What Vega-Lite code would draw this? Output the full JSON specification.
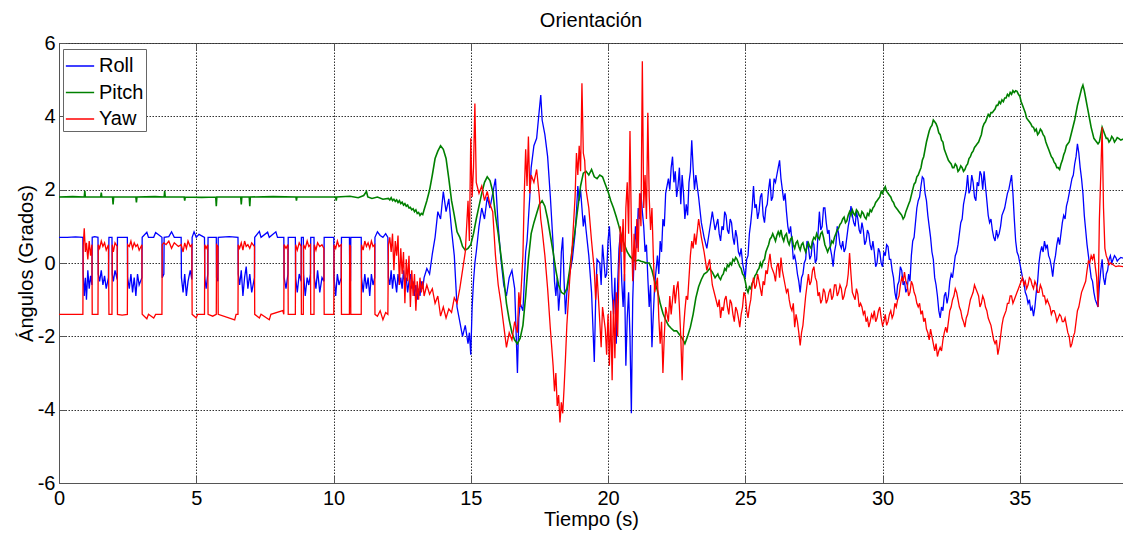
{
 "$schema": "https://vega.github.io/schema/vega-lite/v6.json",
 "width": 1064, "height": 440,
 "autosize": {"type": "none"},
 "padding": {"left": 59, "top": 43, "right": 0, "bottom": 50},
 "background": "white",
 "title": {"text": "Orientación", "font": "Liberation Sans", "fontSize": 20, "fontWeight": "normal", "color": "#000", "anchor": "middle", "frame": "group", "offset": 2},
 "config": {"view": {"stroke": "#555", "strokeWidth": 1}},
 "resolve": {"axis": {"x": "independent"}},
 "datasets": {
  "roll": [
{"t":0,"v":0.7},{"t":0.3,"v":0.7},{"t":0.6,"v":0.71},{"t":0.87,"v":0.7},{"t":0.88,"v":-0.3},{"t":0.92,"v":-0.9},{"t":0.96,"v":-0.4},{"t":1.0,"v":-1.0},{"t":1.05,"v":-0.2},{"t":1.1,"v":-0.7},{"t":1.15,"v":-0.35},{"t":1.2,"v":-0.6},{"t":1.21,"v":0.7},{"t":1.3,"v":0.72},{"t":1.42,"v":0.7},{"t":1.43,"v":-0.3},{"t":1.48,"v":-0.5},{"t":1.54,"v":-0.2},{"t":1.6,"v":-0.6},{"t":1.66,"v":-0.35},{"t":1.72,"v":-0.7},{"t":1.8,"v":-0.4},{"t":1.82,"v":0.7},{"t":1.93,"v":0.7},{"t":1.94,"v":-0.3},{"t":1.98,"v":-0.5},{"t":2.04,"v":-0.2},{"t":2.12,"v":-0.45},{"t":2.13,"v":0.7},{"t":2.3,"v":0.7},{"t":2.49,"v":0.7},{"t":2.5,"v":-0.4},{"t":2.56,"v":-0.7},{"t":2.62,"v":-0.3},{"t":2.68,"v":-0.8},{"t":2.74,"v":-0.4},{"t":2.8,"v":-0.9},{"t":2.86,"v":-0.3},{"t":2.92,"v":-0.6},{"t":3.02,"v":-0.4},{"t":3.03,"v":0.7},{"t":3.2,"v":0.84},{"t":3.26,"v":0.7},{"t":3.45,"v":0.7},{"t":3.52,"v":0.83},{"t":3.75,"v":0.7},{"t":3.76,"v":-0.4},{"t":3.82,"v":-0.3},{"t":3.83,"v":0.7},{"t":4.0,"v":0.72},{"t":4.1,"v":0.85},{"t":4.2,"v":0.7},{"t":4.45,"v":0.7},{"t":4.46,"v":-0.4},{"t":4.52,"v":-0.8},{"t":4.58,"v":-0.3},{"t":4.64,"v":-0.9},{"t":4.7,"v":-0.5},{"t":4.78,"v":-0.2},{"t":4.84,"v":-0.45},{"t":4.85,"v":0.7},{"t":4.92,"v":0.85},{"t":5.0,"v":0.7},{"t":5.1,"v":0.78},{"t":5.3,"v":0.7},{"t":5.31,"v":-0.4},{"t":5.36,"v":-0.7},{"t":5.42,"v":-0.3},{"t":5.43,"v":0.7},{"t":5.73,"v":0.7},{"t":5.74,"v":-0.4},{"t":5.79,"v":-0.5},{"t":5.8,"v":0.7},{"t":6.2,"v":0.72},{"t":6.52,"v":0.7},{"t":6.53,"v":-0.3},{"t":6.58,"v":-0.6},{"t":6.64,"v":-0.2},{"t":6.7,"v":-0.9},{"t":6.76,"v":-0.4},{"t":6.82,"v":-0.1},{"t":6.88,"v":-0.7},{"t":6.95,"v":-0.3},{"t":7.02,"v":-0.8},{"t":7.12,"v":-0.4},{"t":7.13,"v":0.7},{"t":7.3,"v":0.86},{"t":7.36,"v":0.7},{"t":7.6,"v":0.84},{"t":7.66,"v":0.7},{"t":7.9,"v":0.85},{"t":7.96,"v":0.7},{"t":8.19,"v":0.7},{"t":8.2,"v":-0.4},{"t":8.27,"v":-0.7},{"t":8.34,"v":-0.3},{"t":8.35,"v":0.7},{"t":8.61,"v":0.7},{"t":8.62,"v":-0.4},{"t":8.68,"v":-0.8},{"t":8.75,"v":-0.3},{"t":8.82,"v":-0.5},{"t":8.83,"v":0.7},{"t":8.9,"v":0.7},{"t":8.91,"v":-0.3},{"t":8.97,"v":-0.9},{"t":9.04,"v":-0.4},{"t":9.1,"v":-0.6},{"t":9.16,"v":-0.3},{"t":9.17,"v":0.7},{"t":9.29,"v":0.7},{"t":9.3,"v":-0.4},{"t":9.36,"v":-0.7},{"t":9.42,"v":-0.2},{"t":9.5,"v":-0.8},{"t":9.58,"v":-0.4},{"t":9.65,"v":-0.5},{"t":9.66,"v":0.7},{"t":10.01,"v":0.7},{"t":10.02,"v":-0.4},{"t":10.08,"v":-0.9},{"t":10.14,"v":-0.3},{"t":10.2,"v":-0.6},{"t":10.28,"v":-0.4},{"t":10.29,"v":0.7},{"t":10.58,"v":0.7},{"t":10.59,"v":-0.4},{"t":10.62,"v":-0.5},{"t":10.63,"v":0.7},{"t":11.01,"v":0.7},{"t":11.02,"v":-0.4},{"t":11.08,"v":-0.8},{"t":11.14,"v":-0.3},{"t":11.2,"v":-0.7},{"t":11.26,"v":-0.4},{"t":11.32,"v":-0.9},{"t":11.38,"v":-0.3},{"t":11.44,"v":-0.6},{"t":11.5,"v":-0.4},{"t":11.51,"v":0.7},{"t":11.6,"v":0.85},{"t":11.7,"v":0.75},{"t":11.8,"v":0.7},{"t":11.9,"v":0.8},{"t":11.98,"v":0.7},{"t":12.0,"v":-0.4},
{"t":12.05,"v":-0.6},{"t":12.1,"v":-0.2},{"t":12.15,"v":-0.7},{"t":12.2,"v":-0.3},{"t":12.25,"v":-0.5},{"t":12.3,"v":-0.8},{"t":12.35,"v":-0.3},{"t":12.4,"v":-0.6},{"t":12.45,"v":-0.4},{"t":12.5,"v":-0.7},{"t":12.55,"v":-0.2},{"t":12.6,"v":-0.6},{"t":12.65,"v":-0.4},{"t":12.7,"v":-0.8},{"t":12.75,"v":-0.5},{"t":12.8,"v":-0.3},{"t":12.85,"v":-0.7},{"t":12.9,"v":-0.5},{"t":12.95,"v":-0.9},{"t":13.0,"v":-0.6},{"t":13.05,"v":-1.0},{"t":13.1,"v":-0.7},{"t":13.15,"v":-0.9},{"t":13.2,"v":-0.5},{"t":13.25,"v":-0.7},{"t":13.3,"v":-0.4},
{"t":13.4,"v":-0.15},{"t":13.5,"v":-0.3},{"t":13.6,"v":0.25},{"t":13.7,"v":0.7},{"t":13.8,"v":1.4},{"t":13.9,"v":1.2},{"t":14.0,"v":1.95},{"t":14.1,"v":1.4},{"t":14.2,"v":1.75},{"t":14.3,"v":0.9},{"t":14.4,"v":0.2},{"t":14.5,"v":-1.2},{"t":14.6,"v":-1.6},{"t":14.7,"v":-2.0},{"t":14.8,"v":-1.7},{"t":14.9,"v":-2.2},{"t":14.95,"v":-1.9},{"t":15.0,"v":-2.5},{"t":15.05,"v":-1.2},{"t":15.1,"v":-0.5},{"t":15.15,"v":0.0},{"t":15.2,"v":0.3},{"t":15.3,"v":1.0},{"t":15.4,"v":1.5},{"t":15.5,"v":1.2},{"t":15.6,"v":1.8},{"t":15.7,"v":1.5},{"t":15.8,"v":1.9},{"t":15.9,"v":2.3},{"t":16.0,"v":1.0},{"t":16.1,"v":0.1},{"t":16.2,"v":-0.6},{"t":16.3,"v":-0.9},{"t":16.4,"v":-0.4},{"t":16.5,"v":-0.2},{"t":16.6,"v":-0.7},{"t":16.7,"v":-3.0},{"t":16.75,"v":-1.5},{"t":16.8,"v":-1.1},{"t":16.9,"v":-1.3},{"t":16.95,"v":-0.5},{"t":17.0,"v":0.3},{"t":17.05,"v":0.6},{"t":17.1,"v":1.2},{"t":17.15,"v":1.8},{"t":17.2,"v":2.6},{"t":17.3,"v":3.2},{"t":17.4,"v":3.4},{"t":17.5,"v":4.2},{"t":17.55,"v":4.58},{"t":17.6,"v":3.9},{"t":17.7,"v":3.5},{"t":17.8,"v":2.9},{"t":17.9,"v":1.8},{"t":18.0,"v":0.5},{"t":18.05,"v":-0.5},{"t":18.1,"v":-0.9},{"t":18.15,"v":-0.4},{"t":18.2,"v":-1.3},{"t":18.25,"v":-0.8},{"t":18.3,"v":0.3},{"t":18.35,"v":0.7},{"t":18.4,"v":-0.5},{"t":18.45,"v":-1.4},{"t":18.5,"v":-0.8},{"t":18.6,"v":-0.3},{"t":18.7,"v":0.1},{"t":18.8,"v":0.8},{"t":18.85,"v":1.4},{"t":18.9,"v":2.1},{"t":18.95,"v":1.7},{"t":19.0,"v":2.0},{"t":19.05,"v":1.5},{"t":19.1,"v":1.0},{"t":19.15,"v":1.3},{"t":19.2,"v":0.9},{"t":19.3,"v":0.2},{"t":19.4,"v":-0.8},{"t":19.5,"v":-2.7},{"t":19.55,"v":-1.0},{"t":19.6,"v":0.1},{"t":19.7,"v":0.0},{"t":19.75,"v":-0.6},{"t":19.8,"v":0.5},{"t":19.9,"v":-0.4},{"t":19.95,"v":-0.3},{"t":20.0,"v":0.6},{"t":20.05,"v":1.0},{"t":20.1,"v":0.3},{"t":20.15,"v":-0.8},{"t":20.2,"v":-1.4},{"t":20.25,"v":-0.4},{"t":20.3,"v":-2.2},{"t":20.35,"v":-0.6},{"t":20.4,"v":0.4},{"t":20.45,"v":0.8},{"t":20.5,"v":-0.5},{"t":20.55,"v":-1.2},{"t":20.6,"v":-0.3},{"t":20.65,"v":-2.8},{"t":20.7,"v":-1.5},{"t":20.75,"v":-0.8},{"t":20.8,"v":-2.0},{"t":20.85,"v":-4.1},{"t":20.9,"v":-1.0},{"t":20.95,"v":0.2},{"t":21.0,"v":1.0},{"t":21.05,"v":0.4},{"t":21.1,"v":1.5},{"t":21.15,"v":1.2},{"t":21.2,"v":1.9},{"t":21.25,"v":1.4},{"t":21.3,"v":1.0},{"t":21.35,"v":0.3},{"t":21.4,"v":0.5},{"t":21.45,"v":-0.4},{"t":21.5,"v":-1.2},{"t":21.55,"v":-0.6},{"t":21.6,"v":-2.3},{"t":21.65,"v":-1.4},{"t":21.7,"v":-0.6},{"t":21.8,"v":0.2},{"t":21.85,"v":-0.3},{"t":21.9,"v":0.6},{"t":21.95,"v":0.3},{"t":22.0,"v":1.2},{"t":22.05,"v":1.0},{"t":22.1,"v":1.9},{"t":22.2,"v":2.3},{"t":22.25,"v":2.0},{"t":22.3,"v":2.6},{"t":22.35,"v":2.9},{"t":22.4,"v":2.2},{"t":22.45,"v":2.5},{"t":22.5,"v":1.8},{"t":22.55,"v":2.1},{"t":22.6,"v":2.6},{"t":22.65,"v":1.6},{"t":22.7,"v":2.4},{"t":22.75,"v":1.9},{"t":22.8,"v":1.2},{"t":22.85,"v":1.6},{"t":22.9,"v":1.3},{"t":22.95,"v":2.2},{"t":23.0,"v":2.5},{"t":23.05,"v":3.35},{"t":23.1,"v":2.6},{"t":23.15,"v":2.0},{"t":23.2,"v":2.4},{"t":23.3,"v":1.8},{"t":23.4,"v":1.1},{"t":23.5,"v":0.7},{"t":23.6,"v":0.4},{"t":23.7,"v":0.9},{"t":23.8,"v":1.4},{"t":23.9,"v":0.9},
{"t":24.0,"v":1.2},{"t":24.05,"v":0.8},{"t":24.1,"v":0.6},{"t":24.15,"v":1.0},{"t":24.2,"v":0.9},{"t":24.25,"v":1.4},{"t":24.3,"v":1.3},{"t":24.35,"v":0.9},{"t":24.4,"v":0.8},{"t":24.45,"v":1.2},{"t":24.5,"v":1.1},{"t":24.55,"v":0.7},{"t":24.6,"v":0.5},{"t":24.65,"v":0.9},{"t":24.7,"v":0.7},{"t":24.75,"v":0.3},{"t":24.8,"v":0.2},{"t":24.85,"v":0.4},{"t":24.9,"v":0.0},{"t":24.95,"v":-0.2},{"t":25.0,"v":-0.4},{"t":25.05,"v":0.1},{"t":25.1,"v":0.2},{"t":25.15,"v":0.8},{"t":25.2,"v":1.1},{"t":25.25,"v":1.5},{"t":25.3,"v":2.1},{"t":25.35,"v":1.5},{"t":25.4,"v":1.6},{"t":25.45,"v":1.2},{"t":25.5,"v":1.4},{"t":25.55,"v":1.8},{"t":25.6,"v":1.9},{"t":25.65,"v":1.3},{"t":25.7,"v":1.1},{"t":25.75,"v":1.5},{"t":25.8,"v":1.6},{"t":25.85,"v":2.0},{"t":25.9,"v":2.3},{"t":25.95,"v":1.7},{"t":26.0,"v":1.8},{"t":26.05,"v":2.3},{"t":26.1,"v":2.2},{"t":26.15,"v":2.4},{"t":26.2,"v":2.6},{"t":26.25,"v":2.8},{"t":26.3,"v":2.3},{"t":26.35,"v":2.0},{"t":26.4,"v":1.7},{"t":26.45,"v":1.9},{"t":26.5,"v":1.4},{"t":26.55,"v":1.0},{"t":26.6,"v":0.8},{"t":26.65,"v":1.0},{"t":26.7,"v":0.6},{"t":26.75,"v":0.1},{"t":26.8,"v":0.2},{"t":26.85,"v":0.0},{"t":26.9,"v":-0.3},{"t":26.95,"v":-0.5},{"t":27.0,"v":-0.8},{"t":27.05,"v":-0.4},{"t":27.1,"v":-0.3},{"t":27.15,"v":0.0},{"t":27.2,"v":0.1},{"t":27.25,"v":0.6},{"t":27.3,"v":0.45},{"t":27.35,"v":0.1},{"t":27.4,"v":0.2},{"t":27.45,"v":0.6},{"t":27.5,"v":0.5},{"t":27.55,"v":0.0},{"t":27.6,"v":0.1},{"t":27.65,"v":0.8},{"t":27.7,"v":1.4},{"t":27.75,"v":0.9},{"t":27.8,"v":1.0},{"t":27.85,"v":1.5},{"t":27.9,"v":1.5},{"t":27.95,"v":1.1},{"t":28.0,"v":0.8},{"t":28.05,"v":0.9},{"t":28.1,"v":0.4},{"t":28.15,"v":0.2},{"t":28.2,"v":-0.1},{"t":28.25,"v":0.3},{"t":28.3,"v":0.5},{"t":28.35,"v":1.0},{"t":28.4,"v":0.8},{"t":28.45,"v":0.5},{"t":28.5,"v":0.4},{"t":28.55,"v":0.6},{"t":28.6,"v":0.3},{"t":28.65,"v":0.4},{"t":28.7,"v":0.7},{"t":28.75,"v":1.0},{"t":28.8,"v":1.2},{"t":28.85,"v":1.55},{"t":28.9,"v":1.3},{"t":28.95,"v":1.1},{"t":29.0,"v":1.0},{"t":29.05,"v":1.4},{"t":29.1,"v":1.2},{"t":29.15,"v":0.9},{"t":29.2,"v":0.8},{"t":29.25,"v":1.1},{"t":29.3,"v":0.9},{"t":29.35,"v":0.5},{"t":29.4,"v":0.6},{"t":29.45,"v":0.9},{"t":29.5,"v":0.8},{"t":29.55,"v":0.5},{"t":29.6,"v":0.35},{"t":29.65,"v":0.6},{"t":29.7,"v":0.3},{"t":29.75,"v":-0.1},{"t":29.8,"v":0.0},{"t":29.85,"v":0.4},{"t":29.9,"v":0.3},{"t":29.95,"v":0.0},{"t":30.0,"v":-0.1},{"t":30.05,"v":0.3},{"t":30.1,"v":0.2},{"t":30.15,"v":0.5},{"t":30.2,"v":0.45},{"t":30.25,"v":0.1},{"t":30.3,"v":0.1},{"t":30.35,"v":-0.2},{"t":30.4,"v":-0.4},{"t":30.45,"v":-0.8},{"t":30.5,"v":-1.0},{"t":30.55,"v":-0.6},{"t":30.6,"v":-0.5},{"t":30.65,"v":-0.1},{"t":30.7,"v":-0.2},{"t":30.75,"v":-0.6},{"t":30.8,"v":-0.5},{"t":30.85,"v":-0.8},{"t":30.9,"v":-0.7},{"t":30.95,"v":-0.3},{"t":31.0,"v":-0.5},{"t":31.05,"v":0.2},{"t":31.1,"v":0.6},{"t":31.15,"v":0.7},{"t":31.2,"v":1.1},{"t":31.25,"v":1.5},{"t":31.3,"v":1.7},{"t":31.35,"v":1.8},{"t":31.4,"v":2.1},{"t":31.45,"v":2.35},{"t":31.5,"v":2.3},{"t":31.55,"v":1.9},{"t":31.6,"v":1.7},{"t":31.65,"v":1.3},{"t":31.7,"v":1.0},{"t":31.75,"v":0.7},{"t":31.8,"v":0.3},{"t":31.85,"v":0.1},{"t":31.9,"v":-0.4},{"t":31.95,"v":-0.6},{"t":32.0,"v":-0.9},{"t":32.05,"v":-1.3},{"t":32.1,"v":-1.5},{"t":32.15,"v":-1.2},{"t":32.2,"v":-1.3},{"t":32.25,"v":-0.9},{"t":32.3,"v":-0.8},{"t":32.35,"v":-1.1},{"t":32.4,"v":-0.9},{"t":32.45,"v":-0.5},{"t":32.5,"v":-0.3},{"t":32.55,"v":-0.4},{"t":32.6,"v":-0.1},{"t":32.65,"v":0.2},{"t":32.7,"v":0.3},{"t":32.75,"v":0.5},{"t":32.8,"v":0.8},{"t":32.85,"v":1.1},{"t":32.9,"v":1.2},{"t":32.95,"v":1.6},{"t":33.0,"v":1.8},{"t":33.05,"v":2.0},{"t":33.1,"v":2.4},{"t":33.15,"v":1.9},{"t":33.2,"v":2.0},{"t":33.25,"v":2.4},{"t":33.3,"v":2.2},{"t":33.35,"v":1.8},{"t":33.4,"v":1.7},{"t":33.45,"v":2.2},{"t":33.5,"v":2.1},{"t":33.55,"v":2.5},{"t":33.6,"v":2.4},{"t":33.65,"v":2.0},{"t":33.7,"v":2.5},{"t":33.75,"v":2.1},{"t":33.8,"v":1.7},{"t":33.85,"v":1.3},{"t":33.9,"v":1.1},{"t":33.95,"v":1.2},{"t":34.0,"v":0.9},{"t":34.05,"v":0.7},{"t":34.1,"v":0.6},{"t":34.15,"v":0.9},{"t":34.2,"v":0.7},{"t":34.25,"v":0.8},{"t":34.3,"v":1.0},{"t":34.35,"v":1.3},{"t":34.4,"v":1.4},{"t":34.45,"v":1.5},{"t":34.5,"v":1.7},{"t":34.55,"v":1.9},{"t":34.6,"v":2.0},{"t":34.65,"v":2.2},{"t":34.7,"v":2.4},{"t":34.75,"v":1.9},{"t":34.8,"v":1.2},{"t":34.85,"v":0.6},{"t":34.9,"v":0.3},{"t":34.95,"v":0.2},{"t":35.0,"v":0.0},{"t":35.05,"v":-0.2},{"t":35.1,"v":-0.4},{"t":35.15,"v":-0.5},{"t":35.2,"v":-0.8},{"t":35.25,"v":-0.9},{"t":35.3,"v":-1.1},{"t":35.35,"v":-1.0},{"t":35.4,"v":-1.3},{"t":35.45,"v":-1.2},{"t":35.5,"v":-1.45},{"t":35.55,"v":-1.2},{"t":35.6,"v":-0.8},{"t":35.65,"v":-0.5},{"t":35.7,"v":0.0},{"t":35.75,"v":0.3},{"t":35.8,"v":0.45},{"t":35.85,"v":0.3},{"t":35.9,"v":0.6},{"t":35.95,"v":0.4},{"t":36.0,"v":0.5},{"t":36.05,"v":0.2},{"t":36.1,"v":0.1},{"t":36.15,"v":-0.1},{"t":36.2,"v":-0.37},{"t":36.25,"v":0.0},{"t":36.3,"v":0.2},{"t":36.35,"v":0.5},{"t":36.4,"v":0.7},{"t":36.45,"v":0.5},{"t":36.5,"v":0.8},{"t":36.55,"v":1.1},{"t":36.6,"v":1.3},{"t":36.65,"v":1.2},{"t":36.7,"v":1.55},{"t":36.75,"v":1.7},{"t":36.8,"v":1.9},{"t":36.85,"v":2.1},{"t":36.9,"v":2.3},{"t":36.95,"v":2.4},{"t":37.0,"v":2.7},{"t":37.05,"v":2.9},{"t":37.1,"v":3.25},{"t":37.15,"v":3.0},{"t":37.2,"v":2.6},{"t":37.25,"v":2.3},{"t":37.3,"v":1.9},{"t":37.35,"v":1.3},{"t":37.4,"v":0.9},{"t":37.45,"v":0.5},{"t":37.5,"v":0.2},{"t":37.55,"v":-0.1},{"t":37.6,"v":-0.4},{"t":37.65,"v":-0.5},{"t":37.7,"v":-0.8},{"t":37.75,"v":-1.0},{"t":37.8,"v":-1.1},{"t":37.85,"v":-1.2},{"t":37.9,"v":-0.6},{"t":37.95,"v":-0.2},{"t":38.0,"v":0.1},{"t":38.05,"v":-0.4},{"t":38.1,"v":-0.6},{"t":38.15,"v":-0.3},{"t":38.2,"v":-0.2},{"t":38.25,"v":0.1},{"t":38.3,"v":0.2},{"t":38.35,"v":0.0},{"t":38.4,"v":0.1},{"t":38.45,"v":0.2},{"t":38.5,"v":0.15},{"t":38.55,"v":0.05},{"t":38.6,"v":0.1},{"t":38.68,"v":0.15},{"t":38.76,"v":0.13}
  ],
  "pitch": [
{"t":0,"v":1.8},{"t":0.5,"v":1.81},{"t":0.92,"v":1.8},{"t":0.94,"v":1.97},{"t":0.96,"v":1.8},{"t":1.52,"v":1.8},{"t":1.54,"v":1.92},{"t":1.56,"v":1.8},{"t":1.95,"v":1.8},{"t":1.97,"v":1.6},{"t":1.99,"v":1.8},{"t":2.8,"v":1.8},{"t":2.82,"v":1.65},{"t":2.84,"v":1.8},{"t":3.5,"v":1.81},{"t":3.83,"v":1.8},{"t":3.85,"v":1.96},{"t":3.87,"v":1.8},{"t":4.56,"v":1.8},{"t":4.58,"v":1.7},{"t":4.6,"v":1.8},{"t":5.2,"v":1.79},{"t":5.71,"v":1.8},{"t":5.73,"v":1.55},{"t":5.75,"v":1.8},{"t":6.62,"v":1.8},{"t":6.64,"v":1.6},{"t":6.66,"v":1.8},{"t":6.93,"v":1.8},{"t":6.95,"v":1.55},{"t":6.97,"v":1.8},{"t":7.8,"v":1.81},{"t":8.63,"v":1.8},{"t":8.65,"v":1.7},{"t":8.67,"v":1.8},{"t":9.4,"v":1.8},{"t":10.08,"v":1.8},{"t":10.1,"v":1.7},{"t":10.12,"v":1.8},{"t":10.6,"v":1.82},{"t":10.9,"v":1.78},{"t":11.1,"v":1.84},{"t":11.2,"v":1.95},{"t":11.25,"v":1.8},{"t":11.4,"v":1.76},{"t":11.6,"v":1.8},{"t":11.8,"v":1.74},{"t":12.0,"v":1.76},
{"t":12.05,"v":1.72},{"t":12.1,"v":1.78},{"t":12.15,"v":1.7},{"t":12.2,"v":1.74},{"t":12.25,"v":1.68},{"t":12.3,"v":1.72},{"t":12.35,"v":1.65},{"t":12.4,"v":1.7},{"t":12.45,"v":1.62},{"t":12.5,"v":1.66},{"t":12.55,"v":1.58},{"t":12.6,"v":1.62},{"t":12.65,"v":1.55},{"t":12.7,"v":1.58},{"t":12.75,"v":1.5},{"t":12.8,"v":1.52},{"t":12.85,"v":1.45},{"t":12.9,"v":1.48},{"t":12.95,"v":1.4},{"t":13.0,"v":1.45},{"t":13.05,"v":1.35},{"t":13.1,"v":1.38},{"t":13.15,"v":1.3},{"t":13.2,"v":1.35},{"t":13.25,"v":1.32},{"t":13.3,"v":1.45},
{"t":13.4,"v":1.7},{"t":13.5,"v":1.99},{"t":13.6,"v":2.4},{"t":13.7,"v":2.85},{"t":13.8,"v":3.05},{"t":13.9,"v":3.2},{"t":14.0,"v":3.1},{"t":14.1,"v":2.85},{"t":14.2,"v":2.3},{"t":14.3,"v":1.7},{"t":14.4,"v":1.3},{"t":14.5,"v":0.85},{"t":14.6,"v":0.7},{"t":14.7,"v":0.45},{"t":14.8,"v":0.35},{"t":14.9,"v":0.4},{"t":15.0,"v":0.5},{"t":15.1,"v":0.8},{"t":15.2,"v":1.2},{"t":15.3,"v":1.55},{"t":15.4,"v":1.9},{"t":15.5,"v":2.2},{"t":15.6,"v":2.35},{"t":15.7,"v":2.25},{"t":15.8,"v":1.95},{"t":15.9,"v":1.3},{"t":16.0,"v":0.8},{"t":16.1,"v":0.2},{"t":16.2,"v":-0.4},{"t":16.3,"v":-1.1},{"t":16.4,"v":-1.55},{"t":16.5,"v":-1.9},{"t":16.6,"v":-2.1},{"t":16.7,"v":-2.2},{"t":16.8,"v":-2.05},{"t":16.9,"v":-1.7},{"t":17.0,"v":-0.9},{"t":17.1,"v":0.1},{"t":17.2,"v":0.8},{"t":17.3,"v":1.1},{"t":17.4,"v":1.35},{"t":17.5,"v":1.6},{"t":17.6,"v":1.7},{"t":17.7,"v":1.55},{"t":17.8,"v":1.2},{"t":17.9,"v":0.75},{"t":18.0,"v":0.3},{"t":18.1,"v":-0.2},{"t":18.2,"v":-0.6},{"t":18.3,"v":-0.8},{"t":18.4,"v":-0.85},{"t":18.5,"v":-0.7},{"t":18.6,"v":-0.2},{"t":18.7,"v":0.4},{"t":18.8,"v":0.9},{"t":18.9,"v":1.5},{"t":19.0,"v":2.1},{"t":19.1,"v":2.45},{"t":19.2,"v":2.5},{"t":19.3,"v":2.4},{"t":19.4,"v":2.55},{"t":19.5,"v":2.35},{"t":19.6,"v":2.3},{"t":19.7,"v":2.4},{"t":19.8,"v":2.35},{"t":19.9,"v":2.15},{"t":20.0,"v":1.95},{"t":20.1,"v":1.7},{"t":20.2,"v":1.5},{"t":20.3,"v":1.26},{"t":20.4,"v":1.0},{"t":20.5,"v":0.7},{"t":20.6,"v":0.5},{"t":20.7,"v":0.3},{"t":20.8,"v":0.18},{"t":20.9,"v":0.1},{"t":21.0,"v":0.05},{"t":21.1,"v":0.08},{"t":21.2,"v":0.05},{"t":21.3,"v":0.03},{"t":21.4,"v":0.0},{"t":21.5,"v":0.0},{"t":21.6,"v":-0.2},{"t":21.7,"v":-0.5},{"t":21.8,"v":-0.75},{"t":21.9,"v":-1.1},{"t":22.0,"v":-1.37},{"t":22.1,"v":-1.55},{"t":22.2,"v":-1.7},{"t":22.3,"v":-1.78},{"t":22.4,"v":-1.85},{"t":22.5,"v":-1.85},{"t":22.6,"v":-1.95},{"t":22.7,"v":-2.05},{"t":22.8,"v":-2.2},{"t":22.9,"v":-2.0},{"t":23.0,"v":-1.75},{"t":23.1,"v":-1.4},{"t":23.2,"v":-0.95},{"t":23.3,"v":-0.65},{"t":23.4,"v":-0.45},{"t":23.5,"v":-0.3},{"t":23.6,"v":-0.25},{"t":23.7,"v":-0.15},{"t":23.8,"v":-0.25},{"t":23.9,"v":-0.4},
{"t":24.0,"v":-0.3},{"t":24.05,"v":-0.4},{"t":24.1,"v":-0.45},{"t":24.15,"v":-0.35},{"t":24.2,"v":-0.3},{"t":24.25,"v":-0.15},{"t":24.3,"v":-0.2},{"t":24.35,"v":-0.05},{"t":24.4,"v":-0.1},{"t":24.45,"v":0.0},{"t":24.5,"v":-0.05},{"t":24.55,"v":0.1},{"t":24.6,"v":0.05},{"t":24.65,"v":0.15},{"t":24.7,"v":0.1},{"t":24.75,"v":0.0},{"t":24.8,"v":-0.1},{"t":24.85,"v":-0.15},{"t":24.9,"v":-0.3},{"t":24.95,"v":-0.35},{"t":25.0,"v":-0.5},{"t":25.05,"v":-0.7},{"t":25.1,"v":-0.8},{"t":25.15,"v":-0.65},{"t":25.2,"v":-0.7},{"t":25.25,"v":-0.55},{"t":25.3,"v":-0.5},{"t":25.35,"v":-0.35},{"t":25.4,"v":-0.3},{"t":25.45,"v":-0.2},{"t":25.5,"v":-0.15},{"t":25.55,"v":0.0},{"t":25.6,"v":-0.1},{"t":25.65,"v":0.05},{"t":25.7,"v":0.1},{"t":25.75,"v":0.3},{"t":25.8,"v":0.4},{"t":25.85,"v":0.5},{"t":25.9,"v":0.65},{"t":25.95,"v":0.7},{"t":26.0,"v":0.8},{"t":26.05,"v":0.7},{"t":26.1,"v":0.6},{"t":26.15,"v":0.75},{"t":26.2,"v":0.85},{"t":26.25,"v":0.75},{"t":26.3,"v":0.9},{"t":26.35,"v":0.7},{"t":26.4,"v":0.6},{"t":26.45,"v":0.75},{"t":26.5,"v":0.8},{"t":26.55,"v":0.6},{"t":26.6,"v":0.5},{"t":26.65,"v":0.65},{"t":26.7,"v":0.7},{"t":26.75,"v":0.5},{"t":26.8,"v":0.4},{"t":26.85,"v":0.55},{"t":26.9,"v":0.6},{"t":26.95,"v":0.45},{"t":27.0,"v":0.35},{"t":27.05,"v":0.5},{"t":27.1,"v":0.55},{"t":27.15,"v":0.4},{"t":27.2,"v":0.3},{"t":27.25,"v":0.45},{"t":27.3,"v":0.55},{"t":27.35,"v":0.45},{"t":27.4,"v":0.4},{"t":27.45,"v":0.6},{"t":27.5,"v":0.7},{"t":27.55,"v":0.65},{"t":27.6,"v":0.8},{"t":27.65,"v":0.7},{"t":27.7,"v":0.65},{"t":27.75,"v":0.8},{"t":27.8,"v":0.85},{"t":27.85,"v":0.7},{"t":27.9,"v":0.5},{"t":27.95,"v":0.4},{"t":28.0,"v":0.3},{"t":28.05,"v":0.4},{"t":28.1,"v":0.45},{"t":28.15,"v":0.6},{"t":28.2,"v":0.55},{"t":28.25,"v":0.7},{"t":28.3,"v":0.8},{"t":28.35,"v":0.9},{"t":28.4,"v":0.95},{"t":28.45,"v":1.05},{"t":28.5,"v":1.1},{"t":28.55,"v":1.2},{"t":28.6,"v":1.25},{"t":28.65,"v":1.1},{"t":28.7,"v":1.15},{"t":28.75,"v":1.3},{"t":28.8,"v":1.4},{"t":28.85,"v":1.3},{"t":28.9,"v":1.45},{"t":28.95,"v":1.35},{"t":29.0,"v":1.3},{"t":29.05,"v":1.45},{"t":29.1,"v":1.4},{"t":29.15,"v":1.3},{"t":29.2,"v":1.25},{"t":29.25,"v":1.4},{"t":29.3,"v":1.35},{"t":29.35,"v":1.25},{"t":29.4,"v":1.2},{"t":29.45,"v":1.35},{"t":29.5,"v":1.3},{"t":29.55,"v":1.45},{"t":29.6,"v":1.4},{"t":29.65,"v":1.5},{"t":29.7,"v":1.55},{"t":29.75,"v":1.65},{"t":29.8,"v":1.7},{"t":29.85,"v":1.75},{"t":29.9,"v":1.8},{"t":29.95,"v":1.95},{"t":30.0,"v":1.9},{"t":30.05,"v":2.0},{"t":30.1,"v":2.08},{"t":30.15,"v":1.95},{"t":30.2,"v":1.9},{"t":30.25,"v":1.85},{"t":30.3,"v":1.8},{"t":30.35,"v":1.7},{"t":30.4,"v":1.65},{"t":30.45,"v":1.55},{"t":30.5,"v":1.5},{"t":30.55,"v":1.45},{"t":30.6,"v":1.4},{"t":30.65,"v":1.35},{"t":30.7,"v":1.3},{"t":30.75,"v":1.2},{"t":30.8,"v":1.26},{"t":30.85,"v":1.4},{"t":30.9,"v":1.5},{"t":30.95,"v":1.6},{"t":31.0,"v":1.7},{"t":31.05,"v":1.85},{"t":31.1,"v":2.0},{"t":31.15,"v":2.15},{"t":31.2,"v":2.2},{"t":31.25,"v":2.35},{"t":31.3,"v":2.4},{"t":31.35,"v":2.5},{"t":31.4,"v":2.6},{"t":31.45,"v":2.8},{"t":31.5,"v":2.9},{"t":31.55,"v":3.1},{"t":31.6,"v":3.3},{"t":31.65,"v":3.45},{"t":31.7,"v":3.6},{"t":31.75,"v":3.7},{"t":31.8,"v":3.75},{"t":31.85,"v":3.9},{"t":31.9,"v":3.85},{"t":31.95,"v":3.8},{"t":32.0,"v":3.7},{"t":32.05,"v":3.55},{"t":32.1,"v":3.5},{"t":32.15,"v":3.35},{"t":32.2,"v":3.3},{"t":32.25,"v":3.1},{"t":32.3,"v":3.0},{"t":32.35,"v":2.9},{"t":32.4,"v":2.8},{"t":32.45,"v":2.75},{"t":32.5,"v":2.7},{"t":32.55,"v":2.6},{"t":32.6,"v":2.6},{"t":32.65,"v":2.7},{"t":32.7,"v":2.65},{"t":32.75,"v":2.5},{"t":32.8,"v":2.55},{"t":32.85,"v":2.65},{"t":32.9,"v":2.6},{"t":32.95,"v":2.5},{"t":33.0,"v":2.55},{"t":33.05,"v":2.65},{"t":33.1,"v":2.7},{"t":33.15,"v":2.85},{"t":33.2,"v":2.9},{"t":33.25,"v":3.0},{"t":33.3,"v":3.05},{"t":33.35,"v":3.15},{"t":33.4,"v":3.2},{"t":33.45,"v":3.25},{"t":33.5,"v":3.3},{"t":33.55,"v":3.4},{"t":33.6,"v":3.5},{"t":33.65,"v":3.7},{"t":33.7,"v":3.8},{"t":33.75,"v":3.85},{"t":33.8,"v":3.95},{"t":33.85,"v":4.05},{"t":33.9,"v":4.0},{"t":33.95,"v":4.1},{"t":34.0,"v":4.1},{"t":34.05,"v":4.15},{"t":34.1,"v":4.2},{"t":34.15,"v":4.3},{"t":34.2,"v":4.3},{"t":34.25,"v":4.4},{"t":34.3,"v":4.35},{"t":34.35,"v":4.45},{"t":34.4,"v":4.4},{"t":34.45,"v":4.5},{"t":34.5,"v":4.5},{"t":34.55,"v":4.6},{"t":34.6,"v":4.55},{"t":34.65,"v":4.65},{"t":34.7,"v":4.6},{"t":34.75,"v":4.7},{"t":34.8,"v":4.65},{"t":34.85,"v":4.7},{"t":34.9,"v":4.68},{"t":34.95,"v":4.6},{"t":35.0,"v":4.55},{"t":35.05,"v":4.4},{"t":35.1,"v":4.3},{"t":35.15,"v":4.2},{"t":35.2,"v":4.1},{"t":35.25,"v":3.95},{"t":35.3,"v":3.9},{"t":35.35,"v":3.85},{"t":35.4,"v":3.8},{"t":35.45,"v":3.72},{"t":35.5,"v":3.7},{"t":35.55,"v":3.6},{"t":35.6,"v":3.65},{"t":35.65,"v":3.5},{"t":35.7,"v":3.55},{"t":35.75,"v":3.65},{"t":35.8,"v":3.6},{"t":35.85,"v":3.5},{"t":35.9,"v":3.45},{"t":35.95,"v":3.3},{"t":36.0,"v":3.2},{"t":36.05,"v":3.1},{"t":36.1,"v":3.0},{"t":36.15,"v":2.9},{"t":36.2,"v":2.85},{"t":36.25,"v":2.75},{"t":36.3,"v":2.7},{"t":36.35,"v":2.6},{"t":36.4,"v":2.6},{"t":36.45,"v":2.55},{"t":36.5,"v":2.7},{"t":36.55,"v":2.8},{"t":36.6,"v":2.95},{"t":36.65,"v":3.05},{"t":36.7,"v":3.2},{"t":36.75,"v":3.25},{"t":36.8,"v":3.3},{"t":36.85,"v":3.45},{"t":36.9,"v":3.6},{"t":36.95,"v":3.75},{"t":37.0,"v":3.9},{"t":37.05,"v":4.1},{"t":37.1,"v":4.3},{"t":37.15,"v":4.45},{"t":37.2,"v":4.6},{"t":37.25,"v":4.75},{"t":37.3,"v":4.85},{"t":37.35,"v":4.7},{"t":37.4,"v":4.5},{"t":37.45,"v":4.3},{"t":37.5,"v":4.1},{"t":37.55,"v":3.9},{"t":37.6,"v":3.7},{"t":37.65,"v":3.55},{"t":37.7,"v":3.4},{"t":37.75,"v":3.35},{"t":37.8,"v":3.3},{"t":37.85,"v":3.25},{"t":37.9,"v":3.3},{"t":37.95,"v":3.5},{"t":38.0,"v":3.7},{"t":38.05,"v":3.6},{"t":38.1,"v":3.5},{"t":38.15,"v":3.4},{"t":38.2,"v":3.4},{"t":38.25,"v":3.3},{"t":38.3,"v":3.35},{"t":38.35,"v":3.45},{"t":38.4,"v":3.4},{"t":38.45,"v":3.3},{"t":38.5,"v":3.35},{"t":38.55,"v":3.42},{"t":38.6,"v":3.4},{"t":38.68,"v":3.35},{"t":38.76,"v":3.38}
  ],
  "yaw": [
{"t":0,"v":-1.4},{"t":0.87,"v":-1.4},{"t":0.88,"v":0.45},{"t":0.92,"v":0.95},{"t":0.96,"v":0.3},{"t":1.0,"v":0.55},{"t":1.05,"v":0.1},{"t":1.1,"v":0.6},{"t":1.15,"v":0.2},{"t":1.2,"v":0.5},{"t":1.21,"v":-1.4},{"t":1.42,"v":-1.4},{"t":1.43,"v":0.5},{"t":1.48,"v":0.4},{"t":1.54,"v":0.6},{"t":1.6,"v":0.45},{"t":1.66,"v":0.55},{"t":1.72,"v":0.35},{"t":1.8,"v":0.5},{"t":1.82,"v":-1.4},{"t":1.93,"v":-1.4},{"t":1.94,"v":0.5},{"t":1.98,"v":0.3},{"t":2.04,"v":0.55},{"t":2.12,"v":0.45},{"t":2.13,"v":-1.4},{"t":2.3,"v":-1.42},{"t":2.49,"v":-1.4},{"t":2.5,"v":0.5},{"t":2.56,"v":0.45},{"t":2.62,"v":0.6},{"t":2.68,"v":0.4},{"t":2.74,"v":0.55},{"t":2.8,"v":0.45},{"t":2.86,"v":0.5},{"t":2.92,"v":0.35},{"t":3.02,"v":0.5},{"t":3.03,"v":-1.4},{"t":3.2,"v":-1.52},{"t":3.26,"v":-1.4},{"t":3.45,"v":-1.5},{"t":3.52,"v":-1.4},{"t":3.75,"v":-1.4},{"t":3.76,"v":0.5},{"t":3.82,"v":0.55},{"t":3.9,"v":0.5},{"t":4.0,"v":0.6},{"t":4.1,"v":0.4},{"t":4.2,"v":0.55},{"t":4.35,"v":0.45},{"t":4.45,"v":0.5},{"t":4.52,"v":0.3},{"t":4.58,"v":0.55},{"t":4.64,"v":0.4},{"t":4.7,"v":0.6},{"t":4.78,"v":0.45},{"t":4.84,"v":0.5},{"t":4.85,"v":-1.4},{"t":5.0,"v":-1.5},{"t":5.05,"v":-1.4},{"t":5.3,"v":-1.4},{"t":5.31,"v":0.5},{"t":5.36,"v":0.4},{"t":5.42,"v":0.5},{"t":5.43,"v":-1.4},{"t":5.6,"v":-1.45},{"t":5.73,"v":-1.4},{"t":5.74,"v":0.5},{"t":5.79,"v":0.45},{"t":5.8,"v":-1.4},{"t":6.4,"v":-1.55},{"t":6.45,"v":-1.4},{"t":6.52,"v":-1.4},{"t":6.53,"v":0.5},{"t":6.58,"v":0.4},{"t":6.64,"v":0.55},{"t":6.7,"v":0.35},{"t":6.76,"v":0.6},{"t":6.82,"v":0.45},{"t":6.88,"v":0.5},{"t":6.95,"v":0.4},{"t":7.02,"v":0.55},{"t":7.12,"v":0.45},{"t":7.13,"v":-1.4},{"t":7.3,"v":-1.5},{"t":7.36,"v":-1.4},{"t":7.66,"v":-1.55},{"t":7.72,"v":-1.4},{"t":8.15,"v":-1.3},{"t":8.19,"v":-1.4},{"t":8.2,"v":0.5},{"t":8.27,"v":0.4},{"t":8.34,"v":0.5},{"t":8.35,"v":-1.4},{"t":8.61,"v":-1.4},{"t":8.62,"v":0.5},{"t":8.68,"v":0.35},{"t":8.75,"v":0.55},{"t":8.82,"v":0.45},{"t":8.83,"v":-1.4},{"t":8.9,"v":-1.4},{"t":8.91,"v":0.5},{"t":8.97,"v":0.4},{"t":9.04,"v":0.6},{"t":9.1,"v":0.45},{"t":9.16,"v":0.5},{"t":9.17,"v":-1.4},{"t":9.29,"v":-1.4},{"t":9.3,"v":0.5},{"t":9.36,"v":0.35},{"t":9.42,"v":0.55},{"t":9.5,"v":0.45},{"t":9.58,"v":0.5},{"t":9.65,"v":0.4},{"t":9.66,"v":-1.4},{"t":10.01,"v":-1.4},{"t":10.02,"v":0.5},{"t":10.08,"v":0.4},{"t":10.14,"v":0.6},{"t":10.2,"v":0.45},{"t":10.28,"v":0.5},{"t":10.29,"v":-1.4},{"t":10.58,"v":-1.4},{"t":10.59,"v":0.5},{"t":10.62,"v":0.45},{"t":10.63,"v":-1.4},{"t":11.01,"v":-1.4},{"t":11.02,"v":0.5},{"t":11.08,"v":0.35},{"t":11.14,"v":0.6},{"t":11.2,"v":0.45},{"t":11.26,"v":0.55},{"t":11.32,"v":0.4},{"t":11.38,"v":0.6},{"t":11.44,"v":0.45},{"t":11.5,"v":0.5},{"t":11.51,"v":-1.4},{"t":11.6,"v":-1.45},{"t":11.7,"v":-1.3},{"t":11.8,"v":-1.55},{"t":11.9,"v":-1.35},{"t":11.98,"v":-1.4},{"t":12.0,"v":0.5},
{"t":12.05,"v":0.7},{"t":12.1,"v":0.3},{"t":12.15,"v":0.8},{"t":12.2,"v":-0.2},{"t":12.25,"v":0.6},{"t":12.3,"v":0.2},{"t":12.35,"v":0.75},{"t":12.4,"v":-0.6},{"t":12.45,"v":0.4},{"t":12.5,"v":-0.3},{"t":12.55,"v":0.3},{"t":12.6,"v":-1.1},{"t":12.65,"v":0.1},{"t":12.7,"v":-0.5},{"t":12.75,"v":0.2},{"t":12.8,"v":-1.2},{"t":12.85,"v":-0.2},{"t":12.9,"v":-0.9},{"t":12.95,"v":-0.3},{"t":13.0,"v":-1.3},{"t":13.05,"v":-0.5},{"t":13.1,"v":-1.0},{"t":13.15,"v":-0.4},{"t":13.2,"v":-0.8},{"t":13.25,"v":-0.5},{"t":13.3,"v":-0.9},
{"t":13.4,"v":-0.6},{"t":13.5,"v":-0.85},{"t":13.6,"v":-0.7},{"t":13.7,"v":-1.1},{"t":13.8,"v":-0.9},{"t":13.9,"v":-1.45},{"t":14.0,"v":-1.2},{"t":14.1,"v":-1.5},{"t":14.2,"v":-1.25},{"t":14.3,"v":-1.35},{"t":14.4,"v":-0.95},{"t":14.5,"v":-1.1},{"t":14.6,"v":-0.7},{"t":14.7,"v":-0.2},{"t":14.8,"v":0.3},{"t":14.9,"v":1.7},{"t":14.95,"v":0.6},{"t":15.0,"v":3.4},{"t":15.05,"v":1.8},{"t":15.1,"v":2.6},{"t":15.15,"v":4.35},{"t":15.2,"v":2.2},{"t":15.3,"v":1.9},{"t":15.4,"v":2.1},{"t":15.5,"v":1.7},{"t":15.6,"v":1.95},{"t":15.7,"v":1.6},{"t":15.8,"v":1.4},{"t":15.9,"v":0.2},{"t":16.0,"v":-0.6},{"t":16.1,"v":-1.1},{"t":16.2,"v":-1.7},{"t":16.3,"v":-2.3},{"t":16.4,"v":-1.9},{"t":16.5,"v":-2.1},{"t":16.6,"v":-1.6},{"t":16.7,"v":-1.9},{"t":16.75,"v":-0.8},{"t":16.8,"v":-1.2},{"t":16.9,"v":0.2},{"t":16.95,"v":1.9},{"t":17.0,"v":3.1},{"t":17.05,"v":2.1},{"t":17.1,"v":3.45},{"t":17.15,"v":1.9},{"t":17.2,"v":2.4},{"t":17.3,"v":2.2},{"t":17.4,"v":2.55},{"t":17.5,"v":1.8},{"t":17.55,"v":1.2},{"t":17.6,"v":0.9},{"t":17.7,"v":0.2},{"t":17.8,"v":-0.7},{"t":17.9,"v":-1.8},{"t":18.0,"v":-2.8},{"t":18.05,"v":-3.5},{"t":18.1,"v":-3.0},{"t":18.15,"v":-3.9},{"t":18.2,"v":-3.6},{"t":18.25,"v":-4.35},{"t":18.3,"v":-3.8},{"t":18.35,"v":-4.1},{"t":18.4,"v":-3.4},{"t":18.45,"v":-2.6},{"t":18.5,"v":-1.7},{"t":18.6,"v":-0.5},{"t":18.7,"v":0.5},{"t":18.8,"v":1.8},{"t":18.85,"v":3.0},{"t":18.9,"v":2.4},{"t":18.95,"v":3.2},{"t":19.0,"v":2.5},{"t":19.05,"v":4.9},{"t":19.1,"v":3.0},{"t":19.15,"v":2.8},{"t":19.2,"v":2.0},{"t":19.3,"v":1.5},{"t":19.4,"v":0.6},{"t":19.5,"v":-0.2},{"t":19.55,"v":-1.0},{"t":19.6,"v":-0.3},{"t":19.7,"v":-1.6},{"t":19.75,"v":-2.3},{"t":19.8,"v":-1.2},{"t":19.9,"v":-1.8},{"t":19.95,"v":-2.5},{"t":20.0,"v":-1.4},{"t":20.05,"v":-2.8},{"t":20.1,"v":-1.3},{"t":20.15,"v":-3.2},{"t":20.2,"v":-1.0},{"t":20.25,"v":-2.6},{"t":20.3,"v":-0.8},{"t":20.35,"v":-2.0},{"t":20.4,"v":-0.2},{"t":20.45,"v":1.0},{"t":20.5,"v":0.3},{"t":20.55,"v":1.2},{"t":20.6,"v":-0.5},{"t":20.65,"v":1.5},{"t":20.7,"v":2.2},{"t":20.75,"v":0.8},{"t":20.8,"v":3.6},{"t":20.85,"v":1.0},{"t":20.9,"v":-0.5},{"t":20.95,"v":0.8},{"t":21.0,"v":-0.2},{"t":21.05,"v":1.2},{"t":21.1,"v":0.3},{"t":21.15,"v":1.9},{"t":21.2,"v":1.0},{"t":21.25,"v":5.5},{"t":21.3,"v":1.5},{"t":21.35,"v":2.4},{"t":21.4,"v":1.2},{"t":21.45,"v":4.1},{"t":21.5,"v":1.8},{"t":21.55,"v":0.9},{"t":21.6,"v":1.5},{"t":21.65,"v":0.2},{"t":21.7,"v":-0.8},{"t":21.8,"v":-0.4},{"t":21.85,"v":-1.5},{"t":21.9,"v":-2.2},{"t":21.95,"v":-1.6},{"t":22.0,"v":-3.0},{"t":22.05,"v":-2.0},{"t":22.1,"v":-1.2},{"t":22.2,"v":-1.6},{"t":22.25,"v":-0.9},{"t":22.3,"v":-1.4},{"t":22.35,"v":-1.0},{"t":22.4,"v":-0.6},{"t":22.45,"v":-1.1},{"t":22.5,"v":-0.7},{"t":22.55,"v":-0.5},{"t":22.6,"v":-1.2},{"t":22.65,"v":-2.0},{"t":22.7,"v":-3.2},{"t":22.75,"v":-1.8},{"t":22.8,"v":-1.3},{"t":22.85,"v":-0.9},{"t":22.9,"v":-1.0},{"t":22.95,"v":-0.4},{"t":23.0,"v":0.2},{"t":23.05,"v":0.6},{"t":23.1,"v":0.4},{"t":23.15,"v":0.8},{"t":23.2,"v":0.5},{"t":23.3,"v":1.2},{"t":23.4,"v":0.7},{"t":23.5,"v":0.3},{"t":23.6,"v":-0.2},{"t":23.7,"v":0.1},{"t":23.8,"v":-0.6},{"t":23.9,"v":-0.9},
{"t":24.0,"v":-1.2},{"t":24.05,"v":-1.0},{"t":24.1,"v":-1.5},{"t":24.15,"v":-1.2},{"t":24.2,"v":-1.3},{"t":24.25,"v":-1.0},{"t":24.3,"v":-0.9},{"t":24.35,"v":-1.2},{"t":24.4,"v":-1.4},{"t":24.45,"v":-1.0},{"t":24.5,"v":-1.1},{"t":24.55,"v":-1.4},{"t":24.6,"v":-1.6},{"t":24.65,"v":-1.2},{"t":24.7,"v":-1.3},{"t":24.75,"v":-1.5},{"t":24.8,"v":-1.75},{"t":24.85,"v":-1.4},{"t":24.9,"v":-1.2},{"t":24.95,"v":-0.8},{"t":25.0,"v":-0.9},{"t":25.05,"v":-1.3},{"t":25.1,"v":-1.5},{"t":25.15,"v":-1.2},{"t":25.2,"v":-1.0},{"t":25.25,"v":-0.6},{"t":25.3,"v":-0.4},{"t":25.35,"v":-0.7},{"t":25.4,"v":-0.6},{"t":25.45,"v":-0.3},{"t":25.5,"v":-0.5},{"t":25.55,"v":-0.7},{"t":25.6,"v":-0.9},{"t":25.65,"v":-0.5},{"t":25.7,"v":-0.6},{"t":25.75,"v":-0.2},{"t":25.8,"v":-0.3},{"t":25.85,"v":0.0},{"t":25.9,"v":0.25},{"t":25.95,"v":-0.1},{"t":26.0,"v":-0.2},{"t":26.05,"v":-0.3},{"t":26.1,"v":-0.5},{"t":26.15,"v":-0.1},{"t":26.2,"v":0.0},{"t":26.25,"v":-0.4},{"t":26.3,"v":0.15},{"t":26.35,"v":-0.2},{"t":26.4,"v":-0.4},{"t":26.45,"v":-0.6},{"t":26.5,"v":-0.8},{"t":26.55,"v":-0.7},{"t":26.6,"v":-1.0},{"t":26.65,"v":-1.2},{"t":26.7,"v":-1.3},{"t":26.75,"v":-1.1},{"t":26.8,"v":-1.75},{"t":26.85,"v":-1.4},{"t":26.9,"v":-1.6},{"t":26.95,"v":-1.9},{"t":27.0,"v":-2.25},{"t":27.05,"v":-1.9},{"t":27.1,"v":-1.7},{"t":27.15,"v":-1.3},{"t":27.2,"v":-0.9},{"t":27.25,"v":-0.6},{"t":27.3,"v":-0.3},{"t":27.35,"v":-0.6},{"t":27.4,"v":-0.5},{"t":27.45,"v":-0.2},{"t":27.5,"v":-0.1},{"t":27.55,"v":-0.4},{"t":27.6,"v":-0.5},{"t":27.65,"v":-0.9},{"t":27.7,"v":-0.8},{"t":27.75,"v":-1.1},{"t":27.8,"v":-1.0},{"t":27.85,"v":-0.7},{"t":27.9,"v":-0.8},{"t":27.95,"v":-1.1},{"t":28.0,"v":-1.0},{"t":28.05,"v":-0.8},{"t":28.1,"v":-0.7},{"t":28.15,"v":-1.0},{"t":28.2,"v":-0.9},{"t":28.25,"v":-0.6},{"t":28.3,"v":-0.6},{"t":28.35,"v":-0.9},{"t":28.4,"v":-0.8},{"t":28.45,"v":-0.6},{"t":28.5,"v":-0.7},{"t":28.55,"v":-1.0},{"t":28.6,"v":-0.9},{"t":28.65,"v":-0.7},{"t":28.7,"v":-0.6},{"t":28.75,"v":-0.3},{"t":28.8,"v":0.27},{"t":28.85,"v":-0.3},{"t":28.9,"v":-0.8},{"t":28.95,"v":-0.9},{"t":29.0,"v":-1.0},{"t":29.05,"v":-0.7},{"t":29.1,"v":-0.85},{"t":29.15,"v":-1.2},{"t":29.2,"v":-1.1},{"t":29.25,"v":-1.2},{"t":29.3,"v":-1.4},{"t":29.35,"v":-1.3},{"t":29.4,"v":-1.6},{"t":29.45,"v":-1.5},{"t":29.5,"v":-1.75},{"t":29.55,"v":-1.6},{"t":29.6,"v":-1.4},{"t":29.65,"v":-1.5},{"t":29.7,"v":-1.3},{"t":29.75,"v":-1.6},{"t":29.8,"v":-1.5},{"t":29.85,"v":-1.3},{"t":29.9,"v":-1.2},{"t":29.95,"v":-1.5},{"t":30.0,"v":-1.7},{"t":30.05,"v":-1.6},{"t":30.1,"v":-1.4},{"t":30.15,"v":-1.7},{"t":30.2,"v":-1.6},{"t":30.25,"v":-1.4},{"t":30.3,"v":-1.3},{"t":30.35,"v":-1.5},{"t":30.4,"v":-1.4},{"t":30.45,"v":-1.1},{"t":30.5,"v":-1.2},{"t":30.55,"v":-1.0},{"t":30.6,"v":-0.9},{"t":30.65,"v":-0.6},{"t":30.7,"v":-0.4},{"t":30.75,"v":-0.5},{"t":30.8,"v":-0.25},{"t":30.85,"v":-0.5},{"t":30.9,"v":-0.6},{"t":30.95,"v":-0.9},{"t":31.0,"v":-0.8},{"t":31.05,"v":-0.5},{"t":31.1,"v":-0.6},{"t":31.15,"v":-0.8},{"t":31.2,"v":-0.9},{"t":31.25,"v":-1.1},{"t":31.3,"v":-1.2},{"t":31.35,"v":-1.1},{"t":31.4,"v":-1.4},{"t":31.45,"v":-1.3},{"t":31.5,"v":-1.6},{"t":31.55,"v":-1.5},{"t":31.6,"v":-1.8},{"t":31.65,"v":-1.9},{"t":31.7,"v":-2.1},{"t":31.75,"v":-1.8},{"t":31.8,"v":-2.0},{"t":31.85,"v":-2.2},{"t":31.9,"v":-2.4},{"t":31.95,"v":-2.2},{"t":32.0,"v":-2.55},{"t":32.05,"v":-2.4},{"t":32.1,"v":-2.3},{"t":32.15,"v":-2.4},{"t":32.2,"v":-2.1},{"t":32.25,"v":-1.9},{"t":32.3,"v":-1.75},{"t":32.35,"v":-1.9},{"t":32.4,"v":-1.6},{"t":32.45,"v":-1.3},{"t":32.5,"v":-1.2},{"t":32.55,"v":-1.0},{"t":32.6,"v":-0.9},{"t":32.65,"v":-0.7},{"t":32.7,"v":-0.8},{"t":32.75,"v":-1.0},{"t":32.8,"v":-1.2},{"t":32.85,"v":-1.3},{"t":32.9,"v":-1.5},{"t":32.95,"v":-1.6},{"t":33.0,"v":-1.75},{"t":33.05,"v":-1.5},{"t":33.1,"v":-1.4},{"t":33.15,"v":-1.2},{"t":33.2,"v":-1.0},{"t":33.25,"v":-0.9},{"t":33.3,"v":-0.8},{"t":33.35,"v":-0.6},{"t":33.4,"v":-0.7},{"t":33.45,"v":-0.8},{"t":33.5,"v":-0.9},{"t":33.55,"v":-1.2},{"t":33.6,"v":-1.1},{"t":33.65,"v":-0.9},{"t":33.7,"v":-1.0},{"t":33.75,"v":-1.2},{"t":33.8,"v":-1.3},{"t":33.85,"v":-1.5},{"t":33.9,"v":-1.6},{"t":33.95,"v":-1.7},{"t":34.0,"v":-1.9},{"t":34.05,"v":-2.1},{"t":34.1,"v":-2.2},{"t":34.15,"v":-2.1},{"t":34.2,"v":-2.5},{"t":34.25,"v":-2.3},{"t":34.3,"v":-2.0},{"t":34.35,"v":-1.7},{"t":34.4,"v":-1.5},{"t":34.45,"v":-1.4},{"t":34.5,"v":-1.3},{"t":34.55,"v":-1.1},{"t":34.6,"v":-1.1},{"t":34.65,"v":-0.9},{"t":34.7,"v":-0.9},{"t":34.75,"v":-1.1},{"t":34.8,"v":-1.0},{"t":34.85,"v":-0.9},{"t":34.9,"v":-0.8},{"t":34.95,"v":-0.7},{"t":35.0,"v":-0.6},{"t":35.05,"v":-0.5},{"t":35.1,"v":-0.4},{"t":35.15,"v":-0.6},{"t":35.2,"v":-0.5},{"t":35.25,"v":-0.7},{"t":35.3,"v":-0.6},{"t":35.35,"v":-0.4},{"t":35.4,"v":-0.45},{"t":35.45,"v":-0.6},{"t":35.5,"v":-0.7},{"t":35.55,"v":-0.5},{"t":35.6,"v":-0.6},{"t":35.65,"v":-0.8},{"t":35.7,"v":-0.8},{"t":35.75,"v":-0.6},{"t":35.8,"v":-0.7},{"t":35.85,"v":-0.9},{"t":35.9,"v":-0.9},{"t":35.95,"v":-1.1},{"t":36.0,"v":-1.0},{"t":36.05,"v":-1.1},{"t":36.1,"v":-1.2},{"t":36.15,"v":-1.4},{"t":36.2,"v":-1.3},{"t":36.25,"v":-1.3},{"t":36.3,"v":-1.4},{"t":36.35,"v":-1.6},{"t":36.4,"v":-1.5},{"t":36.45,"v":-1.4},{"t":36.5,"v":-1.45},{"t":36.55,"v":-1.6},{"t":36.6,"v":-1.6},{"t":36.65,"v":-1.5},{"t":36.7,"v":-1.7},{"t":36.75,"v":-1.9},{"t":36.8,"v":-2.0},{"t":36.85,"v":-2.3},{"t":36.9,"v":-2.2},{"t":36.95,"v":-2.0},{"t":37.0,"v":-1.9},{"t":37.05,"v":-1.6},{"t":37.1,"v":-1.3},{"t":37.15,"v":-1.2},{"t":37.2,"v":-1.0},{"t":37.25,"v":-0.8},{"t":37.3,"v":-0.7},{"t":37.35,"v":-0.6},{"t":37.4,"v":-0.5},{"t":37.45,"v":-0.2},{"t":37.5,"v":0.05},{"t":37.55,"v":0.0},{"t":37.6,"v":0.2},{"t":37.65,"v":0.1},{"t":37.7,"v":0.25},{"t":37.75,"v":-0.1},{"t":37.8,"v":-0.4},{"t":37.85,"v":-1.2},{"t":37.9,"v":1.2},{"t":37.95,"v":2.4},{"t":38.0,"v":3.7},{"t":38.05,"v":1.5},{"t":38.1,"v":0.4},{"t":38.15,"v":0.2},{"t":38.2,"v":0.1},{"t":38.25,"v":-0.05},{"t":38.3,"v":0.0},{"t":38.4,"v":-0.05},{"t":38.5,"v":-0.1},{"t":38.6,"v":-0.08},{"t":38.76,"v":-0.1}
  ]
 },
 "encoding": {
  "y": {"field": "v", "type": "quantitative", "scale": {"domain": [-6, 6], "nice": false, "zero": false},
   "axis": {"values": [-6,-4,-2,0,2,4,6], "grid": true, "gridDash": [1.5,1.5], "gridColor": "#333", "gridOpacity": 1, "tickSize": -7, "tickColor": "#555", "domainColor": "#555", "labelFont": "Liberation Sans", "labelFontSize": 20, "labelColor": "#000", "labelPadding": 11, "labelOverlap": false, "labelExpr": "replace(datum.label, '\u2212', '-')", "title": "Ángulos (Grados)", "titleFont": "Liberation Sans", "titleFontSize": 20, "titleFontWeight": "normal", "titleColor": "#000", "titleBaseline": "alphabetic", "titleX": -27}}
 },
 "layer": [
  {"data": {"name": "roll"}, "mark": {"type": "line", "strokeWidth": 1.3, "clip": true},
   "encoding": {
    "x": {"field": "t", "type": "quantitative", "scale": {"domain": [0, 38.76], "nice": false, "zero": false},
     "axis": {"orient": "bottom", "values": [0,5,10,15,20,25,30,35], "grid": true, "gridDash": [1.5,1.5], "gridColor": "#333", "gridOpacity": 1, "tickSize": -7, "tickColor": "#555", "domainColor": "#555", "labelFont": "Liberation Sans", "labelFontSize": 20, "labelColor": "#000", "labelPadding": 12, "labelOverlap": false, "labelFlush": false, "title": "Tiempo (s)", "titleFont": "Liberation Sans", "titleFontSize": 20, "titleFontWeight": "normal", "titleColor": "#000", "titleBaseline": "alphabetic", "titleY": 42}},
    "color": {"datum": "Roll", "type": "nominal",
    "scale": {"domain": ["Roll", "Pitch", "Yaw"], "range": ["#0000ff", "#008000", "#ff0000"]},
    "legend": {"orient": "none", "legendX": 4, "legendY": 6, "title": null, "symbolType": "stroke", "symbolSize": 800, "symbolStrokeWidth": 1.5, "labelFont": "Liberation Sans", "labelFontSize": 20, "labelColor": "#000", "labelOffset": 4, "padding": 2, "rowPadding": 1.5, "strokeColor": "#666", "fillColor": "white"}}}},
  {"data": {"name": "pitch"}, "mark": {"type": "line", "strokeWidth": 1.6, "clip": true},
   "encoding": {
    "x": {"field": "t", "type": "quantitative",
     "axis": {"orient": "top", "values": [0,5,10,15,20,25,30,35], "grid": false, "domain": false, "labels": false, "tickSize": -7, "tickColor": "#555", "title": null}},
    "color": {"datum": "Pitch", "type": "nominal"}}},
  {"data": {"name": "yaw"}, "mark": {"type": "line", "strokeWidth": 1.3, "clip": true},
   "encoding": {
    "x": {"field": "t", "type": "quantitative", "axis": null},
    "color": {"datum": "Yaw", "type": "nominal"}}}
 ]
}
